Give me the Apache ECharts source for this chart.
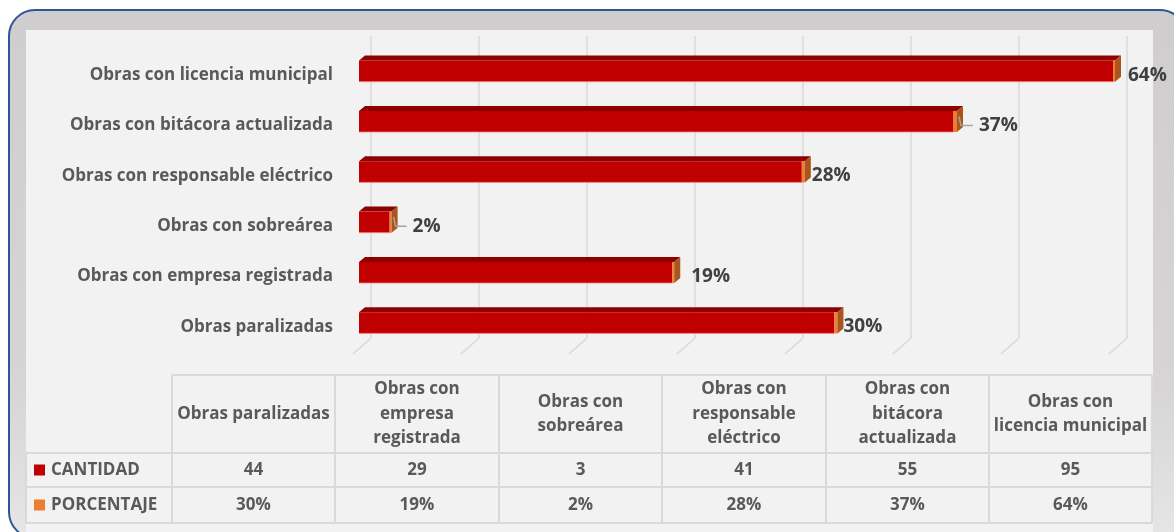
<!DOCTYPE html>
<html><head><meta charset="utf-8">
<script src="https://cdn.jsdelivr.net/npm/echarts@6/dist/echarts.min.js"></script>
<style>html,body{margin:0;padding:0;background:#fff;}#c{width:1174px;height:532px;}</style>
</head><body><div id="c"></div>
<script>
// ---- data ----
const categories = ['Obras paralizadas', 'Obras con empresa registrada', 'Obras con sobreárea', 'Obras con responsable eléctrico', 'Obras con bitácora actualizada', 'Obras con licencia municipal'];
const tableHeaders = ['Obras paralizadas', 'Obras con\nempresa\nregistrada', 'Obras con\nsobreárea', 'Obras con\nresponsable\neléctrico', 'Obras con\nbitácora\nactualizada', 'Obras con\nlicencia municipal'];
const cantidad = [44, 29, 3, 41, 55, 95];
const porcentaje = [30, 19, 2, 28, 37, 64];
const seriesNames = ['CANTIDAD', 'PORCENTAJE'];
const axisTicks = [0, 10, 20, 30, 40, 50, 60, 70];

// ---- style ----
const FONT = '"Open Sans"';
const FS = 17;
const AXIS_MAX = 70;
const labelShift = [-2, 9, 13, -1, 14, 5];
const leaderLine = [false, false, true, false, true, false];
const C_RED = '#c00000', C_TOP = '#8e0000', C_ORANGE = '#ed7d31', C_END = '#a9551c';
const TXT = '#595959';

const chart = echarts.init(document.getElementById('c'));

function renderBar(params, api) {
  const v = api.value(0), idx = api.value(1), p = api.value(2);
  const total = v + p / 100;
  const start = api.coord([0, idx]);
  const endRed = api.coord([Math.min(v, AXIS_MAX), idx]);
  const endAll = api.coord([Math.min(total, AXIS_MAX), idx]);
  const band = api.size([0, 1])[1];
  const h = band * 0.42;
  const cy = start[1] - 4;
  const y0 = cy - h / 2, y1 = cy + h / 2;
  const x0 = start[0];
  const xe = endAll[0];
  const xr = Math.min(endRed[0], xe - 2);
  const dx = 6, dy = -5;
  const children = [
    {type: 'polygon', shape: {points: [[x0, y0], [x0 + dx, y0 + dy], [xe + dx, y0 + dy], [xe, y0]]}, style: {fill: C_TOP}},
    {type: 'rect', shape: {x: x0, y: y0, width: xr - x0, height: h}, style: {fill: C_RED}},
    {type: 'rect', shape: {x: xr, y: y0, width: xe - xr, height: h}, style: {fill: C_ORANGE}},
    {type: 'polygon', shape: {points: [[xe, y0], [xe + dx, y0 + dy], [xe + dx, y1 + dy], [xe, y1]]}, style: {fill: C_END}},
    {type: 'line', shape: {x1: x0, y1: y1, x2: xr, y2: y1}, style: {stroke: 'rgba(255,140,140,0.8)', lineWidth: 1}}
  ];
  const ly = start[1];
  const lx = xe + dx + 2 + labelShift[idx];
  if (leaderLine[idx]) {
    children.push({type: 'polyline', shape: {points: [[xe + dx - 4, cy - 5], [xe + dx - 2, ly], [lx - 6, ly]]},
      style: {stroke: '#a6a6a6', lineWidth: 1.5, fill: null}});
  }
  children.push({type: 'text', x: lx, y: ly, style: {text: p + '%', fill: '#404040', font: 'bold 19px ' + FONT, textAlign: 'left', textVerticalAlign: 'middle'}});
  return {type: 'group', children};
}

function renderFloor(params, api) {
  const pt = api.coord([api.value(0), 0]);
  return {type: 'line', shape: {x1: pt[0], y1: pt[1], x2: pt[0] - 18, y2: pt[1] + 16}, style: {stroke: '#d9d9d9', lineWidth: 1.5}};
}

// ---- table + frame graphics ----
const colX = [172, 335, 499, 662, 826, 989, 1152];
const rowY = [375, 453, 487, 523];
const LINE = '#d9d9d9';
const graphics = [];
graphics.push({type: 'rect', z: -10, shape: {x: 9, y: 10, width: 1177, height: 528, r: 26},
  style: {fill: new echarts.graphic.LinearGradient(0, 0, 0, 1, [{offset: 0, color: '#d0cdcf'}, {offset: 0.7, color: '#d6d4d5'}, {offset: 1, color: '#e6e6e6'}]), stroke: '#2f5597', lineWidth: 2}});
graphics.push({type: 'rect', z: -9, shape: {x: 26, y: 30, width: 1127, height: 510}, style: {fill: '#f2f2f2'}});
graphics.push({type: 'line', z: 5, shape: {x1: colX[0], y1: rowY[0], x2: colX[6], y2: rowY[0]}, style: {stroke: LINE, lineWidth: 2}});
for (let r = 1; r < rowY.length; r++) {
  graphics.push({type: 'line', z: 5, shape: {x1: 26, y1: rowY[r], x2: colX[6], y2: rowY[r]}, style: {stroke: LINE, lineWidth: 2}});
}
colX.forEach(x => graphics.push({type: 'line', z: 5, shape: {x1: x, y1: rowY[0], x2: x, y2: rowY[3]}, style: {stroke: LINE, lineWidth: 2}}));
graphics.push({type: 'line', z: 5, shape: {x1: 26, y1: rowY[1], x2: 26, y2: rowY[3]}, style: {stroke: LINE, lineWidth: 2}});
tableHeaders.forEach((t, i) => {
  const cx = (colX[i] + colX[i + 1]) / 2;
  graphics.push({type: 'text', z: 6, x: cx, y: (rowY[0] + rowY[1]) / 2,
    style: {text: t, font: 'bold ' + FS + 'px ' + FONT, fill: TXT, textAlign: 'center', textVerticalAlign: 'middle', lineHeight: 24.5}});
  graphics.push({type: 'text', z: 6, x: cx, y: (rowY[1] + rowY[2]) / 2,
    style: {text: String(cantidad[i]), font: 'bold ' + FS + 'px ' + FONT, fill: TXT, textAlign: 'center', textVerticalAlign: 'middle'}});
  graphics.push({type: 'text', z: 6, x: cx, y: (rowY[2] + rowY[3]) / 2,
    style: {text: porcentaje[i] + '%', font: 'bold ' + FS + 'px ' + FONT, fill: TXT, textAlign: 'center', textVerticalAlign: 'middle'}});
});
[C_RED, C_ORANGE].forEach((c, r) => {
  const cy = (rowY[r + 1] + rowY[r + 2]) / 2;
  graphics.push({type: 'rect', z: 6, shape: {x: 34, y: cy - 5.5, width: 11, height: 11}, style: {fill: c}});
  graphics.push({type: 'text', z: 6, x: 51, y: cy, style: {text: seriesNames[r], font: 'bold ' + FS + 'px ' + FONT, fill: TXT, textAlign: 'left', textVerticalAlign: 'middle'}});
});

chart.setOption({
  animation: false,
  backgroundColor: '#ffffff',
  graphic: graphics,
  grid: [
    {left: 371, width: 756, top: 36, height: 302},
    {left: 359, width: 756, top: 50, height: 302}
  ],
  xAxis: [
    {gridIndex: 0, type: 'value', min: 0, max: AXIS_MAX, interval: 10, axisLabel: {show: false}, axisLine: {show: false}, axisTick: {show: false},
      splitLine: {show: true, lineStyle: {color: '#d9d9d9', width: 1.5}}},
    {gridIndex: 1, type: 'value', min: 0, max: AXIS_MAX, interval: 10, show: false}
  ],
  yAxis: [
    {gridIndex: 0, type: 'value', min: 0, max: 1, show: false},
    {gridIndex: 1, type: 'category', data: categories, axisLine: {show: false}, axisTick: {show: false},
      axisLabel: {margin: 26, color: TXT, fontFamily: FONT, fontWeight: 'bold', fontSize: FS}}
  ],
  series: [
    {type: 'custom', xAxisIndex: 0, yAxisIndex: 0, renderItem: renderFloor, data: axisTicks.map(t => [t]), encode: {x: 0}, clip: false, silent: true},
    {type: 'custom', name: seriesNames[0], xAxisIndex: 1, yAxisIndex: 1, renderItem: renderBar, clip: false,
      data: cantidad.map((v, i) => [v, i, porcentaje[i]]), encode: {x: 0, y: 1}}
  ]
});
</script></body></html>
